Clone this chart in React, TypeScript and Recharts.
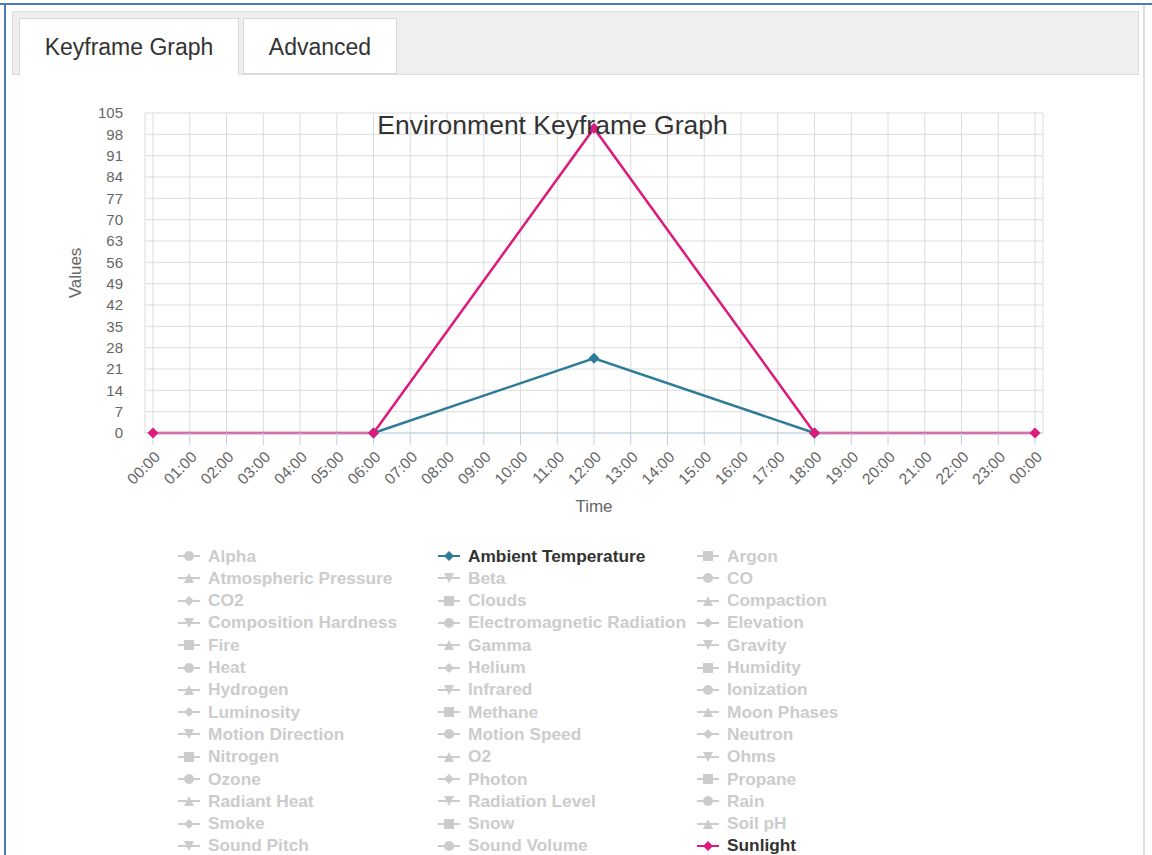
import React from 'react';
import { LineChart, Line, XAxis, YAxis, CartesianGrid, Label } from 'recharts';

// keyframe hours (0..24) and values
const KEY_HOURS = [0, 6, 12, 18, 24];
const SUNLIGHT = [0, 0, 100, 0, 0];
const AMBIENT_TEMPERATURE: (number | null)[] = [null, 0, 24.5, 0, null];

const TIME_LABELS = [
  '00:00', '01:00', '02:00', '03:00', '04:00', '05:00', '06:00', '07:00', '08:00',
  '09:00', '10:00', '11:00', '12:00', '13:00', '14:00', '15:00', '16:00', '17:00',
  '18:00', '19:00', '20:00', '21:00', '22:00', '23:00', '00:00',
];
const Y_TICKS = [0, 7, 14, 21, 28, 35, 42, 49, 56, 63, 70, 77, 84, 91, 98, 105];

const LEGEND_NAMES = [
  'Alpha', 'Ambient Temperature', 'Argon',
  'Atmospheric Pressure', 'Beta', 'CO',
  'CO2', 'Clouds', 'Compaction',
  'Composition Hardness', 'Electromagnetic Radiation', 'Elevation',
  'Fire', 'Gamma', 'Gravity',
  'Heat', 'Helium', 'Humidity',
  'Hydrogen', 'Infrared', 'Ionization',
  'Luminosity', 'Methane', 'Moon Phases',
  'Motion Direction', 'Motion Speed', 'Neutron',
  'Nitrogen', 'O2', 'Ohms',
  'Ozone', 'Photon', 'Propane',
  'Radiant Heat', 'Radiation Level', 'Rain',
  'Smoke', 'Snow', 'Soil pH',
  'Sound Pitch', 'Sound Volume', 'Sunlight',
];
const SYMBOLS = ['circle', 'diamond', 'square', 'triangle', 'triangle-down'];
const ACTIVE_COLORS: Record<string, string> = {
  'Ambient Temperature': '#2f7b9a',
  Sunlight: '#dc1a7c',
};

const FONT = '"Liberation Sans", Arial, sans-serif';
const W = 1152;
const H = 855;

const data = KEY_HOURS.map((h, i) => ({
  hour: h,
  sunlight: SUNLIGHT[i],
  ambient: AMBIENT_TEMPERATURE[i],
}));

const symbolPath = (kind: string, cx: number, cy: number, r: number) => {
  switch (kind) {
    case 'diamond':
      return `M${cx} ${cy - r}L${cx + r} ${cy}L${cx} ${cy + r}L${cx - r} ${cy}Z`;
    case 'square':
      return `M${cx - r} ${cy - r}H${cx + r}V${cy + r}H${cx - r}Z`;
    case 'triangle':
      return `M${cx} ${cy - r}L${cx + r} ${cy + r}H${cx - r}Z`;
    case 'triangle-down':
      return `M${cx - r} ${cy - r}H${cx + r}L${cx} ${cy + r}Z`;
    default:
      return `M${cx - r} ${cy}A${r} ${r} 0 1 0 ${cx + r} ${cy}A${r} ${r} 0 1 0 ${cx - r} ${cy}Z`;
  }
};

const makeDot = (color: string) => (props: any) => {
  const { cx, cy, index } = props;
  if (cx == null || cy == null || Number.isNaN(cy)) return <g key={`d-${index}`} />;
  return <path key={`d-${index}`} d={symbolPath('diamond', cx, cy, 5.5)} fill={color} />;
};

const TimeTick = (props: any) => {
  const { x, y, payload } = props;
  return (
    <text
      transform={`translate(${x + 8}, ${y + 13}) rotate(-45)`}
      textAnchor="end"
      fontSize={15.5}
      fontFamily={FONT}
      fill="#666"
    >
      {TIME_LABELS[payload.value]}
    </text>
  );
};

const LegendItem = ({ name, index }: { name: string; index: number }) => {
  const col = index % 3;
  const row = Math.floor(index / 3);
  const color = ACTIVE_COLORS[name];
  const active = !!color;
  const c = active ? color : '#cccccc';
  return (
    <div
      style={{
        position: 'absolute',
        left: [178, 438, 697][col],
        top: 546 + row * 22.3,
        height: 20,
        display: 'flex',
        alignItems: 'center',
        whiteSpace: 'nowrap',
      }}
    >
      <svg width={22} height={14} style={{ marginRight: 8 }}>
        <line x1={0} y1={7} x2={22} y2={7} stroke={c} strokeWidth={2} />
        <path d={symbolPath(SYMBOLS[index % SYMBOLS.length], 11, 7, 5)} fill={c} />
      </svg>
      <span style={{ fontSize: 17.3, fontWeight: 'bold', color: active ? '#333' : '#cccccc' }}>{name}</span>
    </div>
  );
};

export default function App() {
  return (
    <div
      style={{
        position: 'fixed',
        left: 0,
        top: 0,
        width: W,
        height: H,
        background: '#fff',
        overflow: 'hidden',
        fontFamily: FONT,
      }}
    >
      {/* page frame */}
      <div style={{ position: 'absolute', left: 0, top: 3, width: W, height: 2, background: '#4a7cc0' }} />
      <div style={{ position: 'absolute', left: 4, top: 3, width: 2, height: H, background: '#4a7cc0' }} />
      <div style={{ position: 'absolute', left: 1143, top: 5, width: 2, height: H, background: '#dedede' }} />

      {/* tabs */}
      <div
        style={{
          position: 'absolute', left: 12, top: 11, width: 1127, height: 64,
          boxSizing: 'border-box', background: '#efefef', border: '1px solid #dcdcdc',
        }}
      />
      <div
        style={{
          position: 'absolute', left: 19, top: 18, width: 220, height: 57, boxSizing: 'border-box',
          background: '#fff', border: '1px solid #d8d8d8', borderBottom: 'none',
          fontSize: 23, color: '#333', textAlign: 'center', lineHeight: '56px',
        }}
      >
        Keyframe Graph
      </div>
      <div
        style={{
          position: 'absolute', left: 243, top: 18, width: 154, height: 56, boxSizing: 'border-box',
          background: '#fff', border: '1px solid #d8d8d8',
          fontSize: 23, color: '#333', textAlign: 'center', lineHeight: '56px',
        }}
      >
        Advanced
      </div>

      <div style={{ position: 'absolute', left: 0, top: 0 }}>
        <LineChart
          width={W}
          height={540}
          data={data}
          margin={{ top: 113, right: 109, left: 65, bottom: 27 }}
        >
          <CartesianGrid stroke="#dcdcdc" strokeWidth={1} />
          <XAxis
            dataKey="hour"
            type="number"
            domain={[0, 24]}
            ticks={TIME_LABELS.map((_, i) => i)}
            interval={0}
            padding={{ left: 8, right: 8 }}
            height={80}
            stroke="#c0d0e0"
            tickSize={12}
            tickMargin={0}
            tick={<TimeTick />}
          >
            <Label
              content={(p: any) => {
                const vb = p.viewBox || { x: 145, y: 433, width: 898 };
                return (
                  <text x={vb.x + vb.width / 2} y={512} textAnchor="middle" fontSize={17} fontFamily={FONT} fill="#666">
                    Time
                  </text>
                );
              }}
            />
          </XAxis>
          <YAxis
            type="number"
            domain={[0, 105]}
            ticks={Y_TICKS}
            interval={0}
            width={80}
            axisLine={false}
            tickLine={false}
            tickSize={0}
            tickMargin={22}
            tick={{ fontSize: 15, fill: '#666', fontFamily: FONT }}
          >
            <Label
              content={(p: any) => {
                const vb = p.viewBox || { x: 65, y: 113, height: 320 };
                const cx = vb.x + 16;
                const cy = vb.y + vb.height / 2;
                return (
                  <text
                    x={cx}
                    y={cy}
                    transform={`rotate(-90, ${cx}, ${cy})`}
                    textAnchor="middle"
                    fontSize={17}
                    fontFamily={FONT}
                    fill="#666"
                  >
                    Values
                  </text>
                );
              }}
            />
          </YAxis>
          <Line
            dataKey="ambient"
            stroke={ACTIVE_COLORS['Ambient Temperature']}
            strokeWidth={2.5}
            dot={makeDot(ACTIVE_COLORS['Ambient Temperature'])}
            activeDot={false}
            isAnimationActive={false}
          />
          <Line
            dataKey="sunlight"
            stroke={ACTIVE_COLORS.Sunlight}
            strokeWidth={2.5}
            dot={makeDot(ACTIVE_COLORS.Sunlight)}
            activeDot={false}
            isAnimationActive={false}
          />
        </LineChart>
      </div>

      {/* chart title */}
      <div
        style={{
          position: 'absolute', left: 0, top: 112, width: 1105, textAlign: 'center',
          fontSize: 26.5, lineHeight: '26px', color: '#333',
        }}
      >
        Environment Keyframe Graph
      </div>

      {/* legend */}
      {LEGEND_NAMES.map((name, i) => (
        <LegendItem key={name} name={name} index={i} />
      ))}
    </div>
  );
}
